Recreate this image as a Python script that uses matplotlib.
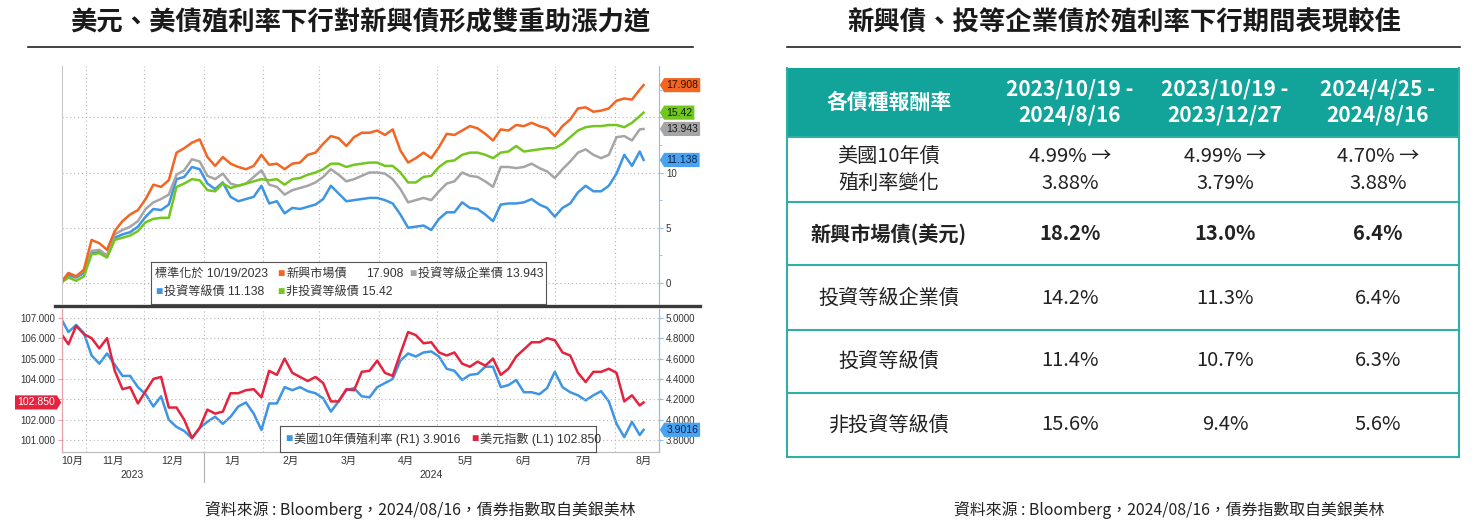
import pandas as pd
import matplotlib
matplotlib.use("Agg")
import matplotlib.pyplot as plt
import matplotlib.transforms as mtransforms
from matplotlib.patches import Rectangle
from matplotlib.path import Path

plt.rcParams['font.family'] = ['Liberation Sans', 'Noto Sans CJK TC']
CJK = ['Noto Sans CJK TC', 'DejaVu Sans']

# ---- data (every 4 days from 2023/10/19, last point 2024/08/16) ----
dates = list(pd.date_range('2023-10-19', periods=76, freq='4D')) + [pd.Timestamp('2024-08-16')]

em = [0, 0.9, 0.6, 1.2, 3.9, 3.6, 3.0, 4.7, 5.6, 6.2, 6.6, 7.6, 8.9, 8.7, 9.3, 11.8, 12.2, 12.7, 13.0, 11.4,
      10.6, 11.4, 10.8, 10.5, 10.3, 10.6, 11.6, 10.7, 10.8, 10.3, 10.8, 10.9, 11.6, 11.8, 12.6, 13.3, 13.1, 12.4,
      13.2, 13.6, 13.6, 13.8, 13.4, 13.9, 12.0, 10.9, 11.3, 11.8, 11.3, 12.3, 13.5, 13.4, 13.8, 14.2, 14.0, 13.5,
      12.9, 13.9, 13.8, 14.3, 14.2, 14.5, 14.2, 14.0, 13.3, 14.2, 14.8, 15.8, 15.9, 15.5, 15.6, 15.8, 16.5, 16.7,
      16.6, 17.5, 17.908]
ig_corp = [0, 0.9, 0.6, 1.1, 2.9, 3.0, 2.5, 4.4, 4.8, 5.1, 5.6, 6.7, 7.3, 7.6, 8.0, 9.8, 10.2, 11.2, 11.0, 9.7,
           9.4, 9.9, 9.0, 8.8, 9.0, 9.6, 10.2, 8.9, 8.7, 8.0, 8.4, 8.6, 8.8, 9.1, 9.6, 10.3, 9.8, 9.2,
           9.4, 9.7, 10.0, 10.0, 9.9, 9.4, 8.5, 7.3, 7.5, 7.7, 7.5, 8.3, 9.0, 9.2, 10.0, 9.7, 9.6, 9.2,
           8.7, 10.5, 10.5, 10.4, 10.5, 10.8, 10.4, 10.1, 9.5, 10.3, 11.0, 11.8, 12.1, 11.6, 11.3, 11.6, 13.2, 13.3,
           12.9, 13.9, 13.943]
ig = [0, 0.7, 0.5, 0.9, 2.7, 2.8, 2.4, 4.1, 4.4, 4.6, 5.1, 6.0, 6.7, 6.6, 7.1, 9.4, 9.6, 10.5, 10.3, 9.0,
      8.5, 9.1, 7.8, 7.4, 7.6, 7.8, 8.8, 7.2, 7.4, 6.3, 6.8, 6.7, 6.9, 7.1, 7.6, 8.8, 8.1, 7.4,
      7.5, 7.6, 7.7, 7.7, 7.5, 7.2, 6.2, 5.0, 5.1, 5.2, 4.8, 5.8, 6.4, 6.4, 7.3, 6.8, 6.7, 6.2,
      5.6, 7.1, 7.2, 7.2, 7.3, 7.6, 7.1, 6.8, 6.0, 6.8, 7.2, 8.2, 8.8, 8.3, 8.3, 8.8, 9.9, 11.6,
      10.6, 11.9, 11.138]
hy = [0, 0.5, 0.2, 0.6, 2.6, 2.7, 2.3, 3.9, 4.1, 4.3, 4.7, 5.5, 5.8, 5.9, 5.9, 8.7, 9.0, 9.4, 9.3, 8.4,
      8.3, 9.0, 8.6, 8.8, 9.0, 9.2, 9.4, 9.3, 9.4, 8.9, 9.4, 9.5, 9.8, 10.0, 10.3, 10.8, 10.8, 10.5,
      10.7, 10.8, 10.9, 10.9, 10.6, 10.6, 10.0, 9.1, 9.1, 9.6, 9.7, 10.5, 11.0, 11.1, 11.6, 11.8, 11.8, 11.6,
      11.3, 11.8, 11.9, 12.4, 11.9, 12.0, 12.1, 12.2, 12.2, 12.6, 13.2, 13.8, 14.1, 14.2, 14.2, 14.3, 14.3, 14.1,
      14.5, 15.1, 15.42]

dxy = [106.25, 105.7, 106.6, 106.2, 106.0, 105.5, 106.0, 104.4, 103.5, 103.6, 102.8, 103.4, 104.0, 104.1, 102.6,
       102.6, 102.0, 101.1, 101.6, 102.5, 102.3, 102.4, 103.3, 103.3, 103.45, 103.5, 103.1, 104.4, 104.2, 105.0,
       104.3, 104.1, 103.9, 104.1, 103.8, 102.9, 102.9, 103.5, 103.45, 104.35, 104.4, 104.9, 104.3, 104.15, 105.25,
       106.3, 106.15, 105.75, 105.8, 105.3, 105.15, 105.3, 104.75, 104.6, 104.85, 104.65, 105.0, 104.2, 104.5, 105.1,
       105.45, 105.8, 105.8, 106.0, 105.9, 105.3, 105.15, 104.3, 103.85, 104.35, 104.35, 104.5, 104.3, 102.9, 103.2,
       102.7, 102.85]
ust10 = [5.00, 4.86, 4.93, 4.85, 4.63, 4.55, 4.65, 4.54, 4.43, 4.43, 4.32, 4.25, 4.13, 4.23, 4.00,
         3.93, 3.89, 3.82, 3.92, 3.98, 4.03, 3.96, 4.03, 4.13, 4.17, 4.06, 3.90, 4.16, 4.16, 4.32,
         4.29, 4.32, 4.28, 4.26, 4.21, 4.08, 4.18, 4.29, 4.31, 4.23, 4.22, 4.32, 4.36, 4.40, 4.58,
         4.65, 4.62, 4.66, 4.67, 4.62, 4.50, 4.48, 4.39, 4.44, 4.45, 4.52, 4.52, 4.32, 4.34, 4.39,
         4.27, 4.27, 4.25, 4.31, 4.47, 4.32, 4.27, 4.24, 4.19, 4.24, 4.28, 4.18, 3.96, 3.83, 3.98,
         3.85, 3.9016]

month_starts = ['2023-11-01', '2023-12-01', '2024-01-01', '2024-02-01', '2024-03-01', '2024-04-01',
                '2024-05-01', '2024-06-01', '2024-07-01', '2024-08-01']
month_mid = ['2023-10-25', '2023-11-15', '2023-12-16', '2024-01-16', '2024-02-15', '2024-03-16',
             '2024-04-15', '2024-05-16', '2024-06-15', '2024-07-16', '2024-08-16']
month_labels = ['10月', '11月', '12月', '1月', '2月', '3月', '4月', '5月', '6月', '7月', '8月']

table_header = ['各債種報酬率', '2023/10/19 -\n2024/8/16', '2023/10/19 -\n2023/12/27', '2024/4/25 -\n2024/8/16']
row_labels = ['美國10年債\n殖利率變化', '新興市場債(美元)', '投資等級企業債', '投資等級債', '非投資等級債']
row_values = [['4.99% →\n3.88%', '4.99% →\n3.79%', '4.70% →\n3.88%'],
              ['18.2%', '13.0%', '6.4%'],
              ['14.2%', '11.3%', '6.4%'],
              ['11.4%', '10.7%', '6.3%'],
              ['15.6%', '9.4%', '5.6%']]

ORANGE, GREEN, GRAY, BLUE, RED = '#f26522', '#72c71f', '#a5a5a5', '#3d95e3', '#e4233e'
TEAL = '#12a39b'
GRID = dict(color='#b5b5b5', lw=0.8, ls=(0, (1, 2.5)), zorder=0)

W, H = 1481, 527
fig = plt.figure(figsize=(W / 100, H / 100), dpi=100)


def rect(x0, y0, x1, y1):
    return [x0 / W, 1 - y1 / H, (x1 - x0) / W, (y1 - y0) / H]


def tag_left(x0, y0, width, height, mutation_size):
    pad = 0.2 * mutation_size
    x0, y0, x1, y1 = x0 - pad, y0 - pad, x0 + width + pad, y0 + height + pad
    d = (y1 - y0) * 0.3
    return Path([(x0, y0), (x1, y0), (x1, y1), (x0, y1), (x0 - d, (y0 + y1) / 2), (x0, y0)], closed=True)


def tag_right(x0, y0, width, height, mutation_size):
    pad = 0.2 * mutation_size
    x0, y0, x1, y1 = x0 - pad, y0 - pad, x0 + width + pad, y0 + height + pad
    d = (y1 - y0) * 0.3
    return Path([(x0, y0), (x1, y0), (x1 + d, (y0 + y1) / 2), (x1, y1), (x0, y1), (x0, y0)], closed=True)


# background layer in pixel coordinates
canvas = fig.add_axes([0, 0, 1, 1])
canvas.set_xlim(0, W)
canvas.set_ylim(H, 0)
canvas.axis('off')
canvas.set_zorder(-5)

canvas.text(360, 23, '美元、美債殖利率下行對新興債形成雙重助漲力道', ha='center', va='center',
            fontsize=19, fontweight='bold', family=CJK, color='#1a1a1a')
canvas.text(1124, 23, '新興債、投等企業債於殖利率下行期間表現較佳', ha='center', va='center',
            fontsize=19, fontweight='bold', family=CJK, color='#1a1a1a')
canvas.plot([28, 693], [47, 47], color='#222222', lw=1.2)
canvas.plot([787, 1460], [47, 47], color='#222222', lw=1.2)
canvas.plot([55, 700], [306, 306], color='#3a3a3a', lw=2.4)
src = '資料來源 : Bloomberg，2024/08/16，債券指數取自美銀美林'
canvas.text(420, 510, src, ha='center', va='center', fontsize=11.4, family=CJK, color='#222222')
canvas.text(1169, 510, src, ha='center', va='center', fontsize=11.4, family=CJK, color='#222222')

# ---- top chart ----
xlim = (pd.Timestamp('2023-10-19 16:00'), pd.Timestamp('2024-08-24'))
ax1 = fig.add_axes(rect(62, 66, 659, 304))
for d in month_starts:
    ax1.axvline(pd.Timestamp(d), **GRID)
for v in [0, 5, 10, 15]:
    ax1.axhline(v, **GRID)
ax1.plot(dates, ig, color=BLUE, lw=1.8)
ax1.plot(dates, ig_corp, color=GRAY, lw=1.8)
ax1.plot(dates, hy, color=GREEN, lw=1.8)
ax1.plot(dates, em, color=ORANGE, lw=1.8)
ax1.set_xlim(*xlim)
ax1.set_ylim(-1.9, 19.64)
ax1.set_xticks([])
ax1.yaxis.tick_right()
ax1.set_yticks([0, 5, 10, 15])
ax1.set_yticklabels(['0', '5', '10', ''])
ax1.set_yticks([2.5, 7.5, 12.5, 17.5], minor=True)
ax1.tick_params(axis='y', which='major', length=3, color='#8dbfe8', labelsize=7, labelcolor='#333333', pad=2)
ax1.tick_params(axis='y', which='minor', length=2, color='#8dbfe8')
ax1.spines['top'].set_visible(False)
ax1.spines['bottom'].set_visible(False)
ax1.spines['left'].set_color('#c8c8c8')
ax1.spines['right'].set_color('#8dbfe8')

tr1 = mtransforms.blended_transform_factory(ax1.transAxes, ax1.transData)
for val, txt, fc, tc in [(em[-1], '17.908', ORANGE, '#2a1200'), (hy[-1], '15.42', GREEN, '#102000'),
                         (ig_corp[-1], '13.943', GRAY, '#1a1a1a'), (ig[-1], '11.138', '#4aa3f0', '#0a2450')]:
    ax1.text(1.012, val, txt, transform=tr1, ha='left', va='center', fontsize=7.5, color=tc, clip_on=False,
             bbox=dict(boxstyle=tag_left, fc=fc, ec='none'), zorder=6)

# ---- bottom chart ----
ax2 = fig.add_axes(rect(62, 309, 659, 452))
ax3 = ax2.twinx()
ax3.set_zorder(ax2.get_zorder() - 1)
ax2.patch.set_visible(False)
for d in month_starts:
    ax3.axvline(pd.Timestamp(d), **GRID)
for v in range(101, 108):
    ax2.axhline(v, **GRID)
ax2.plot(dates, dxy, color=RED, lw=1.8)
ax3.plot(dates, ust10, color=BLUE, lw=1.8)
ax2.set_xlim(*xlim)
ax2.set_ylim(100.42, 107.43)
ax3.set_ylim(3.684, 5.086)
ax2.set_yticks(range(101, 108))
ax2.set_yticklabels([f'{v:.3f}' if v != 103 else '' for v in range(101, 108)])
ax3.set_yticks([3.8, 4.0, 4.2, 4.4, 4.6, 4.8, 5.0])
ax3.set_yticklabels([f'{v:.4f}' for v in [3.8, 4.0, 4.2, 4.4, 4.6, 4.8, 5.0]])
ax2.tick_params(axis='y', length=3, color='#e8a0aa', labelsize=7, labelcolor='#333333', pad=2)
ax3.tick_params(axis='y', length=3, color='#8dbfe8', labelsize=7, labelcolor='#333333', pad=2)
ax2.set_xticks([pd.Timestamp(d) for d in month_mid])
ax2.set_xticklabels(month_labels)
ax2.tick_params(axis='x', length=0, labelsize=7.5, labelcolor='#333333', pad=3)
for a in (ax2, ax3):
    a.spines['top'].set_visible(False)
    a.spines['left'].set_color('#e8a0aa')
    a.spines['right'].set_color('#8dbfe8')
    a.spines['bottom'].set_color('#bdbdbd')

trx = mtransforms.blended_transform_factory(ax2.transData, ax2.transAxes)
jan1 = pd.Timestamp('2024-01-01')
ax2.plot([jan1, jan1], [0, -0.21], transform=trx, clip_on=False, color='#b0b0b0', lw=0.8)
ax2.text(pd.Timestamp('2023-11-25'), -0.16, '2023', transform=trx, ha='center', va='center', fontsize=7.5,
         color='#333333')
ax2.text(pd.Timestamp('2024-04-28'), -0.16, '2024', transform=trx, ha='center', va='center', fontsize=7.5,
         color='#333333')

tr2 = mtransforms.blended_transform_factory(ax2.transAxes, ax2.transData)
ax2.text(-0.012, dxy[-1], '102.850', transform=tr2, ha='right', va='center', fontsize=7.5, color='white',
         clip_on=False, bbox=dict(boxstyle=tag_right, fc=RED, ec='none'), zorder=6)
tr3 = mtransforms.blended_transform_factory(ax3.transAxes, ax3.transData)
ax3.text(1.012, ust10[-1], '3.9016', transform=tr3, ha='left', va='center', fontsize=7.5, color='#0a2450',
         clip_on=False, bbox=dict(boxstyle=tag_left, fc='#4aa3f0', ec='none'), zorder=6)

# ---- legends ----
leg1 = fig.add_axes(rect(151, 262, 546, 304))
leg1.set_xlim(151, 546)
leg1.set_ylim(304, 262)
leg1.set_xticks([])
leg1.set_yticks([])
for s in leg1.spines.values():
    s.set_color('#555555')
leg1.set_zorder(10)
lf = dict(fontsize=8.7, va='center', ha='left', color='#333333')
leg1.text(155, 274, '標準化於 10/19/2023', **lf)
leg1.text(277, 274, '■', **{**lf, 'color': ORANGE})
leg1.text(286, 274, '新興市場債', **lf)
leg1.text(366, 274, '17.908', **lf)
leg1.text(409, 274, '■', **{**lf, 'color': GRAY})
leg1.text(418, 274, '投資等級企業債 13.943', **lf)
leg1.text(155, 292, '■', **{**lf, 'color': BLUE})
leg1.text(164, 292, '投資等級債 11.138', **lf)
leg1.text(277, 292, '■', **{**lf, 'color': GREEN})
leg1.text(286, 292, '非投資等級債 15.42', **lf)

leg2 = fig.add_axes(rect(280, 426, 596, 452))
leg2.set_xlim(280, 596)
leg2.set_ylim(452, 426)
leg2.set_xticks([])
leg2.set_yticks([])
for s in leg2.spines.values():
    s.set_color('#555555')
leg2.set_zorder(10)
leg2.text(285, 439, '■', **{**lf, 'color': BLUE})
leg2.text(294, 439, '美國10年債殖利率 (R1) 3.9016', **lf)
leg2.text(471, 439, '■', **{**lf, 'color': RED})
leg2.text(480, 439, '美元指數 (L1) 102.850', **lf)

# ---- table ----
col_x = [889, 1070, 1225, 1378]
row_y = [170, 234, 298, 361, 425]
canvas.add_patch(Rectangle((787, 68), 672, 69, fc=TEAL, ec='none'))
for y in [137, 202, 265, 330, 393, 457]:
    canvas.plot([787, 1459], [y, y], color='#2fb0a7', lw=1.5)
canvas.plot([787, 787], [68, 457], color='#2fb0a7', lw=1.5)
canvas.plot([1459, 1459], [68, 457], color='#2fb0a7', lw=1.5)
for x, txt in zip(col_x, table_header):
    canvas.text(x, 102, txt, ha='center', va='center', fontsize=15, fontweight='bold', color='white',
                family=CJK, linespacing=1.35)
for i, (lab, vals) in enumerate(zip(row_labels, row_values)):
    wt = 'bold' if i == 1 else 'normal'
    canvas.text(col_x[0], row_y[i], lab, ha='center', va='center', fontsize=14.5, fontweight=wt,
                color='#222222', family=CJK, linespacing=1.35)
    for x, v in zip(col_x[1:], vals):
        canvas.text(x, row_y[i], v, ha='center', va='center', fontsize=14.5, fontweight=wt,
                    color='#222222', family=CJK, linespacing=1.35)

fig.savefig('out.png', dpi=100)
